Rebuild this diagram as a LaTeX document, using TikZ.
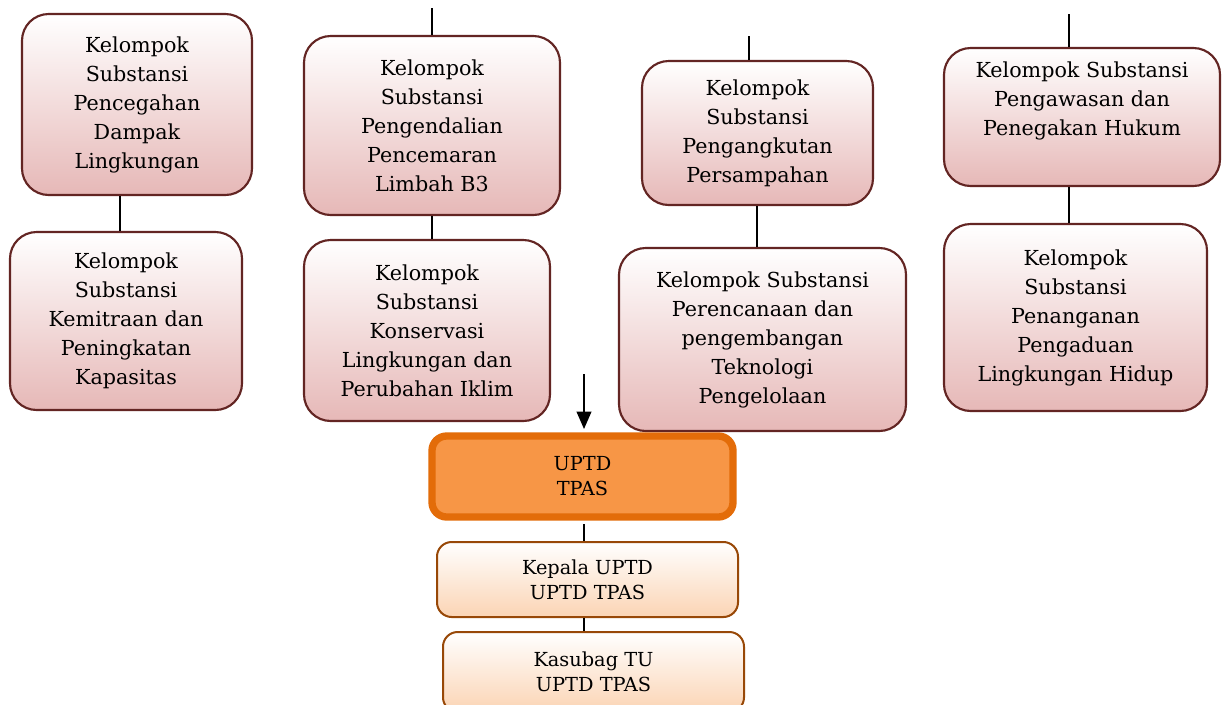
\documentclass[tikz,border=0pt]{standalone}
\usepackage{fontspec}
\setmainfont{DejaVu Serif}
\usepackage{tikz}
\usetikzlibrary{arrows.meta,calc}
\definecolor{rosedraw}{HTML}{632523}
\definecolor{rosefill}{HTML}{E6B8B7}
\definecolor{orangedraw}{HTML}{E36C09}
\definecolor{orangefill}{HTML}{F79646}
\definecolor{peachdraw}{HTML}{984807}
\definecolor{peachfill}{HTML}{FBD4B4}
\begin{document}
\begin{tikzpicture}[x=0.75pt,y=-0.75pt,
  kelompok/.style={draw=rosedraw,line width=1.6pt,rounded corners=20pt,top color=white,bottom color=rosefill,align=center,inner sep=0pt,font=\fontsize{15.5}{21.75}\selectfont},
  uptdbox/.style={draw=orangedraw,line width=5.5pt,rounded corners=11pt,fill=orangefill,align=center,inner sep=0pt,minimum width=225.75pt,minimum height=60.75pt,font=\fontsize{14.5}{18.75}\selectfont},
  unitbox/.style={draw=peachdraw,line width=1.5pt,rounded corners=11pt,top color=white,bottom color=peachfill,align=center,inner sep=0pt,minimum width=225.75pt,font=\fontsize{14.5}{18.75}\selectfont},
  garis/.style={line width=1.3pt}]
\clip (0,0) rectangle (1227,704);
\fill[white] (0,0) rectangle (1227,704);
\node[kelompok,minimum width=172.5pt,minimum height=135.75pt] (pdl) at (137,104.5) {Kelompok\\Substansi\\Pencegahan\\Dampak\\Lingkungan};
\node[kelompok,minimum width=174pt,minimum height=133.5pt] (kpk) at (126,321) {Kelompok\\Substansi\\Kemitraan dan\\Peningkatan\\Kapasitas};
\node[kelompok,minimum width=192pt,minimum height=134.25pt] (pplb) at (432,125.5) {Kelompok\\Substansi\\Pengendalian\\Pencemaran\\Limbah B3};
\node[kelompok,minimum width=184.5pt,minimum height=135.75pt] (klpi) at (427,330.5) {Kelompok\\Substansi\\Konservasi\\Lingkungan dan\\Perubahan Iklim};
\node[kelompok,minimum width=173.25pt,minimum height=108pt] (pp) at (757.5,133) {Kelompok\\Substansi\\Pengangkutan\\Persampahan};
\node[kelompok,minimum width=215.25pt,minimum height=137.25pt] (ppt) at (762.5,339.5) {Kelompok Substansi\\Perencanaan dan\\pengembangan\\Teknologi\\Pengelolaan};
\node[kelompok,minimum width=207pt,minimum height=103.5pt] (pphk) at (1082,117) {Kelompok Substansi\\Pengawasan dan\\Penegakan Hukum\\[6pt]};
\node[kelompok,minimum width=197.25pt,minimum height=140.25pt] (pplh) at (1075.5,317.5) {Kelompok\\Substansi\\Penanganan\\Pengaduan\\Lingkungan Hidup};
\node[uptdbox] (uptd) at (582.5,476.5) {UPTD\\TPAS};
\node[unitbox,minimum height=56.25pt] (kepala) at (587.5,579.5) {Kepala UPTD\\UPTD TPAS};
\node[unitbox,minimum height=60pt] (kasubag) at (593.5,672) {Kasubag TU\\UPTD TPAS};
\coordinate (ka) at (120,0);
\coordinate (kb) at (432,8);
\coordinate (kc) at (749,36);
\coordinate (kc2) at (757,0);
\coordinate (kd) at (1069,14);
\coordinate (ke) at (584,374);
\draw[garis] (pdl.south -| ka) -- (kpk.north -| ka);
\draw[garis] (kb) -- (kb |- pplb.north);
\draw[garis] (pplb.south) -- (pplb.south |- klpi.north);
\draw[garis] (kc) -- (kc |- pp.north);
\draw[garis] (pp.south -| kc2) -- (ppt.north -| kc2);
\draw[garis] (kd) -- (kd |- pphk.north);
\draw[garis] (pphk.south -| kd) -- (pplh.north -| kd);
\draw[garis,-{Triangle[length=13pt,width=11pt]}] (ke) -- ([yshift=2.5pt]uptd.north -| ke);
\draw[garis] ([yshift=-2.5pt]uptd.south -| ke) -- (kepala.north -| ke);
\draw[garis] (kepala.south -| ke) -- (kasubag.north -| ke);
\end{tikzpicture}
\end{document}
